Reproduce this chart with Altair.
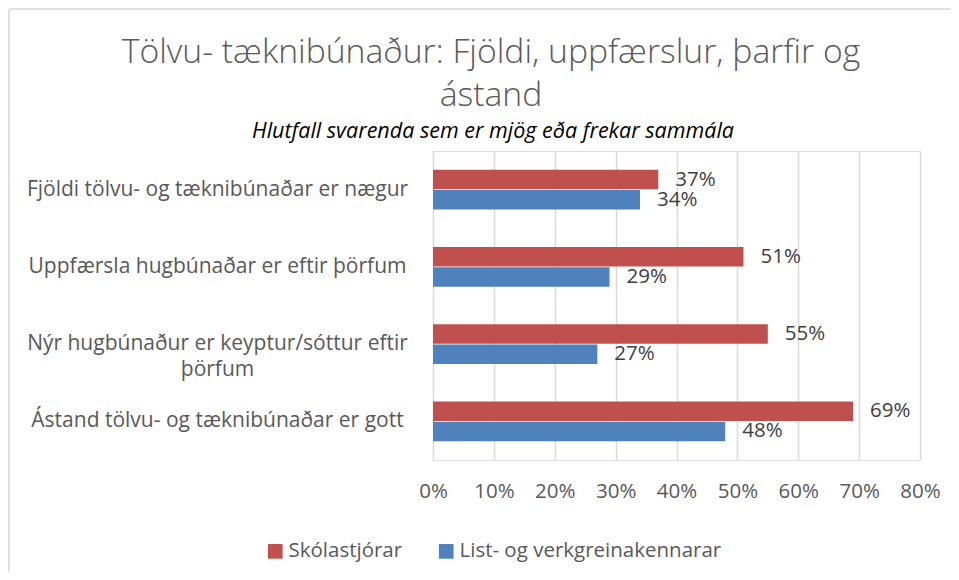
import altair as alt
import pandas as pd

title_lines = ["Tölvu- tæknibúnaður: Fjöldi, uppfærslur, þarfir og", "ástand"]
subtitle = "Hlutfall svarenda sem er mjög eða frekar sammála"
categories = [
    "Fjöldi tölvu- og tæknibúnaðar er nægur",
    "Uppfærsla hugbúnaðar er eftir þörfum",
    "Nýr hugbúnaður er keyptur/sóttur eftir þörfum",
    "Ástand tölvu- og tæknibúnaðar er gott",
]
series = ["Skólastjórar", "List- og verkgreinakennarar"]
skolastjorar = [0.37, 0.51, 0.55, 0.69]
kennarar = [0.34, 0.29, 0.27, 0.48]
colors = ["#C0504D", "#4F81BD"]
x_ticks = [0, 0.1, 0.2, 0.3, 0.4, 0.5, 0.6, 0.7, 0.8]

rows = []
for c, a, b in zip(categories, skolastjorar, kennarar):
    rows.append({"cat": c, "series": series[0], "value": a})
    rows.append({"cat": c, "series": series[1], "value": b})
df = pd.DataFrame(rows)

FONT = "Open Sans"
TXT = "#595959"
FS = 21

y_enc = alt.Y(
    "cat:N",
    sort=categories,
    scale=alt.Scale(paddingInner=0.48, paddingOuter=0.24),
    axis=alt.Axis(
        title=None,
        domain=False,
        ticks=False,
        labelAlign="center",
        labelPadding=216,
        labelFontSize=FS,
        labelColor=TXT,
        labelFont=FONT,
        labelLimit=500,
        labelLineHeight=26,
        labelExpr="datum.label == 'Nýr hugbúnaður er keyptur/sóttur eftir þörfum' ? ['Nýr hugbúnaður er keyptur/sóttur eftir', 'þörfum'] : datum.label",
    ),
)
x_enc = alt.X(
    "value:Q",
    scale=alt.Scale(domain=[0, 0.8], nice=False),
    axis=alt.Axis(
        title=None,
        values=x_ticks,
        format=".0%",
        domain=False,
        ticks=False,
        grid=True,
        gridColor="#D9D9D9",
        gridWidth=1.5,
        labelPadding=21,
        labelFontSize=FS - 0.5,
        labelColor=TXT,
        labelFont=FONT,
        labelFlush=False,
        labelOverlap=False,
    ),
)
yoff = alt.YOffset("series:N", sort=series)
color = alt.Color(
    "series:N",
    sort=series,
    scale=alt.Scale(domain=series, range=colors),
    legend=alt.Legend(
        title=None,
        orient="none",
        direction="horizontal",
        legendX=-168,
        legendY=390,
        symbolType="square",
        symbolSize=215,
        symbolStrokeWidth=0,
        labelFontSize=20.5,
        labelColor=TXT,
        labelFont=FONT,
        labelLimit=500,
        columnPadding=33,
        labelOffset=3,
    ),
)

bars = alt.Chart(df).mark_bar(size=19.5).encode(
    x=x_enc, y=y_enc, yOffset=yoff, color=color
)
labels = alt.Chart(df).mark_text(
    align="left", baseline="middle", dx=17, fontSize=20.5, font=FONT, color="#404040"
).encode(
    x="value:Q",
    y=alt.Y("cat:N", sort=categories),
    yOffset=yoff,
    text=alt.Text("value:Q", format=".0%"),
)

frame_df = pd.DataFrame({"k": [0]})
frame_left = alt.Chart(frame_df).mark_rule(color="#D9D9D9", strokeWidth=1.5).encode(
    x=alt.value(-424), y=alt.value(-142), y2=alt.value(421)
)
frame_top = alt.Chart(frame_df).mark_rule(color="#D9D9D9", strokeWidth=1.5).encode(
    x=alt.value(-424), x2=alt.value(520), y=alt.value(-142)
)

title_df = pd.DataFrame({"t": [title_lines[0], title_lines[1], subtitle],
                         "kind": ["t1", "t2", "sub"]})
title1 = alt.Chart(title_df).transform_filter("datum.kind == 't1'").mark_text(
    align="center", baseline="alphabetic", fontSize=33.7, fontWeight=300,
    font=FONT, color="#5a5a5a"
).encode(x=alt.value(58), y=alt.value(-88), text="t:N")
title2 = alt.Chart(title_df).transform_filter("datum.kind == 't2'").mark_text(
    align="center", baseline="alphabetic", fontSize=33.7, fontWeight=300,
    font=FONT, color="#5a5a5a"
).encode(x=alt.value(58), y=alt.value(-45), text="t:N")
sub = alt.Chart(title_df).transform_filter("datum.kind == 'sub'").mark_text(
    align="center", baseline="alphabetic", fontSize=21.5, font=FONT,
    fontStyle="italic", color="#000000"
).encode(x=alt.value(60), y=alt.value(-13), text="t:N")

chart = (
    alt.layer(frame_left, frame_top, bars, labels, title1, title2, sub)
    .properties(
        width=487,
        height=309,
        autosize=alt.AutoSizeParams(type="none"),
        padding={"left": 425, "top": 143, "right": 31, "bottom": 112},
    )
    .configure_view(stroke=None)
    .configure(background="white")
)

chart.save("out.html", embed_options={"renderer": "svg", "actions": False})
